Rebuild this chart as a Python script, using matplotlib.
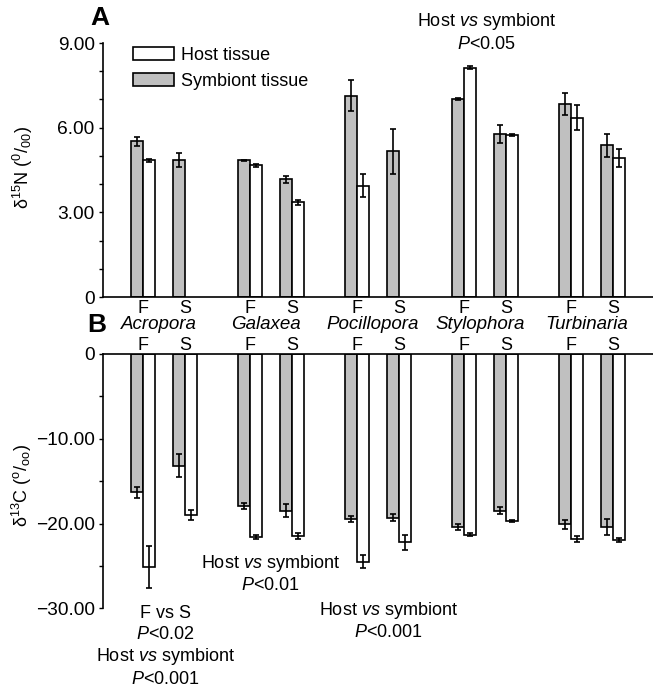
import numpy as np
import matplotlib
matplotlib.use("Agg")
import matplotlib.pyplot as plt
from matplotlib.ticker import MultipleLocator, FixedLocator, FuncFormatter
from matplotlib.patches import Patch
from matplotlib.transforms import blended_transform_factory

plt.rcParams['font.family'] = ['Liberation Sans', 'DejaVu Sans']
plt.rcParams['mathtext.fontset'] = 'custom'
plt.rcParams['mathtext.rm'] = 'Liberation Sans'
plt.rcParams['mathtext.it'] = 'Liberation Sans:italic'
plt.rcParams['font.size'] = 13

species = ['Acropora', 'Galaxea', 'Pocillopora', 'Stylophora', 'Turbinaria']
sites = ['F', 'S']

# values ordered F, S for each species
n15_sym = [5.51, 4.84, 4.84, 4.17, 7.13, 5.16, 7.01, 5.78, 6.84, 5.37]
n15_sym_err = [0.15, 0.25, 0.03, 0.13, 0.55, 0.79, 0.03, 0.31, 0.38, 0.42]
n15_host = [4.84, np.nan, 4.66, 3.35, 3.95, np.nan, 8.13, 5.75, 6.36, 4.93]
n15_host_err = [0.06, np.nan, 0.04, 0.08, 0.42, np.nan, 0.06, 0.04, 0.45, 0.32]

c13_sym = [-16.3, -13.2, -17.9, -18.5, -19.5, -19.3, -20.4, -18.5, -20.1, -20.4]
c13_sym_err = [0.65, 1.35, 0.35, 0.77, 0.35, 0.4, 0.4, 0.4, 0.55, 0.92]
c13_host = [-25.1, -19.0, -21.6, -21.5, -24.5, -22.2, -21.3, -19.7, -21.8, -21.9]
c13_host_err = [2.5, 0.6, 0.25, 0.35, 0.8, 0.87, 0.15, 0.15, 0.35, 0.25]

GRAY = '#c0c0c0'
w = 0.109
x = np.repeat(np.arange(len(species)), 2) + np.tile([0.0, 0.393], len(species))
site_labels = sites * len(species)

fig = plt.figure(figsize=(6.53, 6.89), dpi=100)
ax_a = fig.add_axes([103 / 653, 1 - 297 / 689, 550 / 653, 254 / 689])
ax_b = fig.add_axes([103 / 653, 1 - 608.3 / 689, 550 / 653, 254.3 / 689])


def draw_bars(ax, sym, sym_err, host, host_err):
    bar_kw = dict(width=w, edgecolor='black', linewidth=1.2)
    ax.bar(x - w / 2, sym, color=GRAY, **bar_kw)
    ax.bar(x + w / 2, host, color='white', **bar_kw)
    err_kw = dict(fmt='none', ecolor='black', elinewidth=1.2, capsize=2.5, capthick=1.2)
    ax.errorbar(x - w / 2, sym, yerr=sym_err, **err_kw)
    ax.errorbar(x + w / 2, host, yerr=host_err, **err_kw)
    ax.set_xlim(-0.374, 4.766)
    ax.tick_params(axis='y', direction='out', length=3, width=1, pad=3, which='both',
                   labelsize=13.8)
    ax.tick_params(axis='x', length=0)
    ax.spines['right'].set_visible(False)
    for s in ax.spines.values():
        s.set_linewidth(1.2)


fmt = FuncFormatter(lambda v, p: '0' if abs(v) < 1e-9 else f'{v:.2f}'.replace('-', '\u2212'))

# panel A
draw_bars(ax_a, n15_sym, n15_sym_err, n15_host, n15_host_err)
ax_a.set_ylim(0, 9)
ax_a.spines['top'].set_visible(False)
ax_a.yaxis.set_major_locator(FixedLocator([0, 3, 6, 9]))
ax_a.yaxis.set_minor_locator(MultipleLocator(1))
ax_a.yaxis.set_major_formatter(fmt)
ax_a.set_xticks(x)
ax_a.set_xticklabels(site_labels)
ax_a.tick_params(axis='x', pad=2)

# panel B
draw_bars(ax_b, c13_sym, c13_sym_err, c13_host, c13_host_err)
ax_b.set_ylim(-30, 0)
ax_b.spines['bottom'].set_visible(False)
ax_b.yaxis.set_major_locator(FixedLocator([-30, -20, -10, 0]))
ax_b.yaxis.set_minor_locator(MultipleLocator(5))
ax_b.yaxis.set_major_formatter(fmt)
ax_b.xaxis.tick_top()
ax_b.set_xticks(x)
ax_b.set_xticklabels(site_labels)
ax_b.tick_params(axis='x', pad=0)

# species names between the panels
tr = blended_transform_factory(ax_a.transData, ax_a.transAxes)
mids = np.arange(len(species)) + 0.393 / 2 - 0.05
for xm, name in zip(mids, species):
    ax_a.text(xm, -0.11, name, transform=tr, ha='center', va='center',
              style='italic', fontsize=13.5)

# axis labels
fig.text(23 / 653, 1 - 168 / 689, r'δ$^{15}$N ($^{0}$/$_{00}$)', rotation=90,
         ha='center', va='center')
fig.text(22 / 653, 1 - 486 / 689, r'δ$^{13}$C ($^{\mathrm{o}}$/$_{\mathrm{oo}}$)', rotation=90,
         ha='center', va='center')

# panel letters
fig.text(100 / 653, 1 - 18 / 689, 'A', fontsize=19, fontweight='bold', ha='center', va='center')
fig.text(97 / 653, 1 - 325 / 689, 'B', fontsize=19, fontweight='bold', ha='center', va='center')

# legend
handles = [Patch(facecolor='white', edgecolor='black', linewidth=1.2, label='Host tissue'),
           Patch(facecolor=GRAY, edgecolor='black', linewidth=1.2, label='Symbiont tissue')]
ax_a.legend(handles=handles, loc='upper left', bbox_to_anchor=(0.054, 0.985),
            frameon=False, borderaxespad=0, borderpad=0, handlelength=2.3,
            handleheight=0.75, handletextpad=0.4, labelspacing=0.5, fontsize=13)

# significance notes
ax_a.text(3.21, 9.39, 'Host $\\mathit{vs}$ symbiont\n$\\mathit{P}$<0.05', ha='center',
          va='center', linespacing=1.25, clip_on=False)
ax_b.text(1.19, -25.9, 'Host $\\mathit{vs}$ symbiont\n$\\mathit{P}$<0.01', ha='center',
          va='center', linespacing=1.25, clip_on=False)
ax_b.text(2.29, -31.4, 'Host $\\mathit{vs}$ symbiont\n$\\mathit{P}$<0.001', ha='center',
          va='center', linespacing=1.25, clip_on=False)
ax_b.text(0.21, -34.5, 'F vs S\n$\\mathit{P}$<0.02\nHost $\\mathit{vs}$ symbiont\n$\\mathit{P}$<0.001',
          ha='center', va='center', linespacing=1.25, clip_on=False)

fig.savefig('out.png', dpi=100)
